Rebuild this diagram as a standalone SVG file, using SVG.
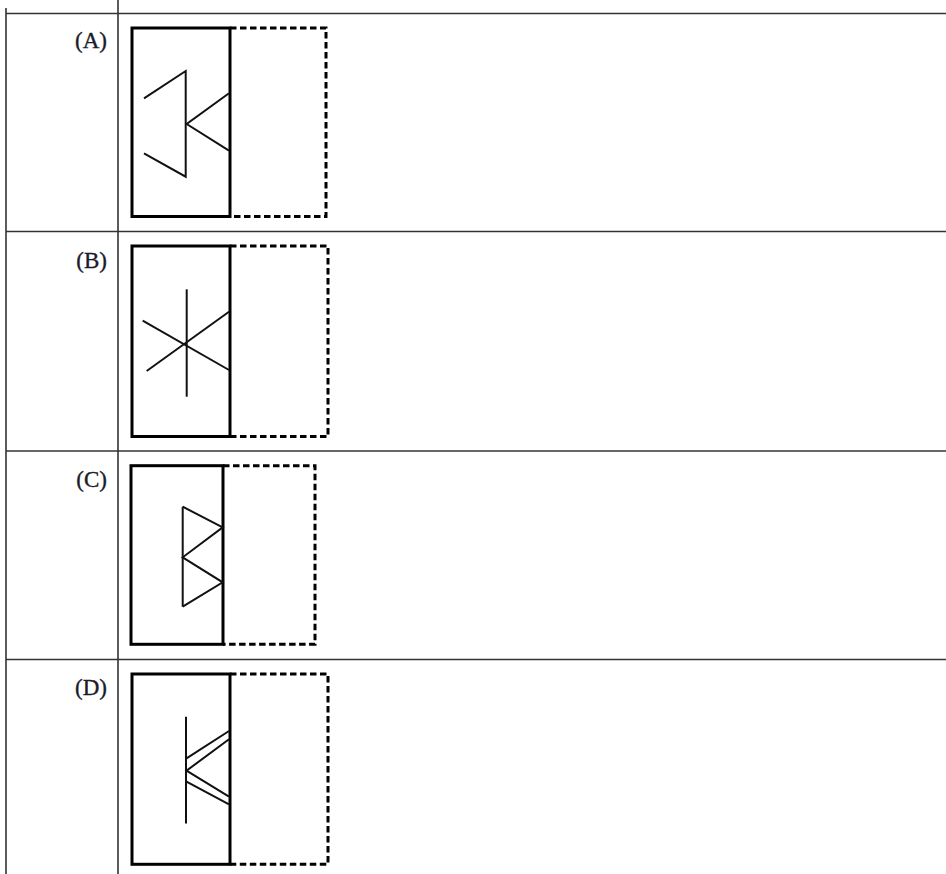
<svg xmlns="http://www.w3.org/2000/svg" width="946" height="874" viewBox="0 0 946 874">
<style>
.grid{stroke:#333;stroke-width:1.6;fill:none}
.box{stroke:#000;stroke-width:3;fill:none}
.dash{stroke:#000;stroke-width:3;fill:none;stroke-dasharray:6.5 3.5}
.fig{stroke:#111;stroke-width:2;fill:none;stroke-linejoin:miter}
.lbl{font-family:"Liberation Serif","Times New Roman",serif;font-size:23px;fill:#1a1a2a;stroke:#1a1a2a;stroke-width:0.35;text-anchor:end}
</style>
<rect width="946" height="874" fill="#fff"/>
<g id="table" class="grid">
<line x1="6" y1="8" x2="6" y2="874"/>
<line x1="118" y1="0" x2="118" y2="874"/>
<line x1="6" y1="13.5" x2="946" y2="13.5"/>
<line x1="6" y1="231.5" x2="946" y2="231.5"/>
<line x1="6" y1="451" x2="946" y2="451"/>
<line x1="6" y1="659.5" x2="946" y2="659.5"/>
</g>
<g id="optionA">
<text class="lbl" x="107" y="48">(A)</text>
<polyline class="dash" points="230,28 326,28 326,216.5 230,216.5"/>
<rect class="box" x="132" y="28" width="98" height="188.5"/>
<polyline class="fig" points="144,98.3 185.7,71 185.7,176.7 144,153.3"/>
<polyline class="fig" points="229,93.3 186.7,124 229,150.7"/>
</g>
<g id="optionB">
<text class="lbl" x="107" y="268">(B)</text>
<polyline class="dash" points="230,246 328,246 328,436.5 230,436.5"/>
<rect class="box" x="132" y="246" width="98" height="190.5"/>
<line class="fig" x1="186.7" y1="289.3" x2="186.7" y2="396.7"/>
<line class="fig" x1="142.7" y1="320.7" x2="229" y2="370"/>
<line class="fig" x1="146.7" y1="371" x2="229" y2="311.7"/>
</g>
<g id="optionC">
<text class="lbl" x="107" y="487">(C)</text>
<polyline class="dash" points="223,465.7 315,465.7 315,644.3 223,644.3"/>
<rect class="box" x="131" y="465.7" width="92" height="178.6"/>
<line class="fig" x1="182.7" y1="506.7" x2="182.7" y2="606.7"/>
<polyline class="fig" points="182.7,506.7 222.7,527.3 182.7,557.3 222.7,582.3 182.7,606.7"/>
</g>
<g id="optionD">
<text class="lbl" x="107" y="695">(D)</text>
<polyline class="dash" points="230,674 328,674 328,864.3 230,864.3"/>
<rect class="box" x="132" y="674" width="98" height="190.3"/>
<line class="fig" x1="186" y1="716.7" x2="186" y2="823.5"/>
<line class="fig" x1="229" y1="731" x2="186.5" y2="758.3"/>
<polyline class="fig" points="229,739.3 186.5,770.7 229,796.7"/>
<line class="fig" x1="186.5" y1="781.7" x2="229" y2="804.3"/>
</g>
</svg>
